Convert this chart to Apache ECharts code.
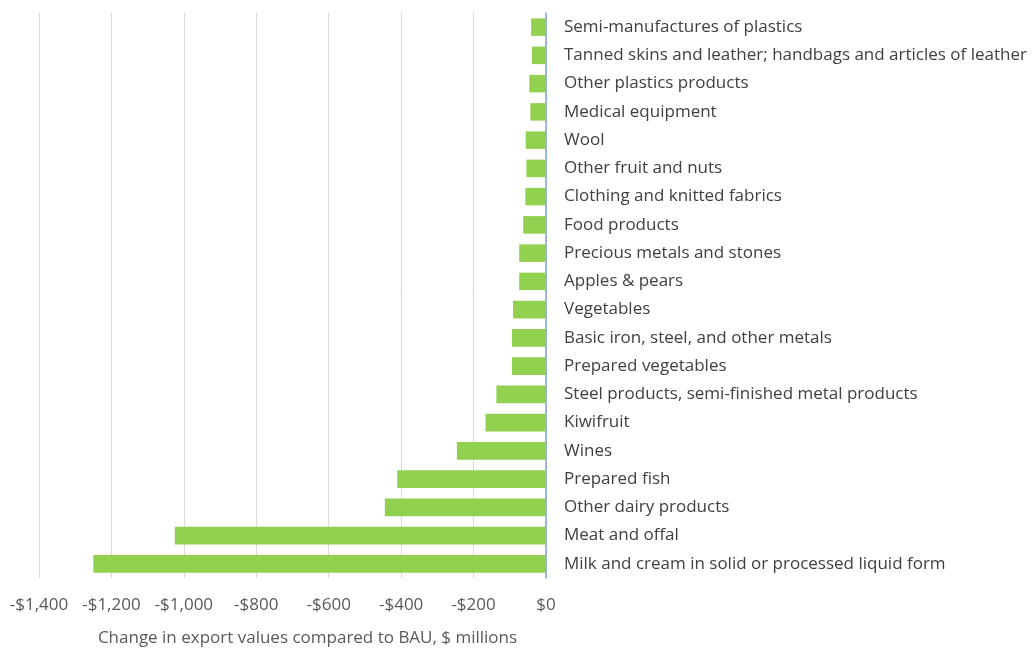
<!DOCTYPE html>
<html><head><meta charset="utf-8">
<script src="https://cdn.jsdelivr.net/npm/echarts@6/dist/echarts.min.js"></script>
<style>html,body{margin:0;padding:0;background:#fff}#c{width:1032px;height:648px}</style>
</head><body><div id="c"></div>
<script>
const categories = [
  "Semi-manufactures of plastics",
  "Tanned skins and leather; handbags and articles of leather",
  "Other plastics products",
  "Medical equipment",
  "Wool",
  "Other fruit and nuts",
  "Clothing and knitted fabrics",
  "Food products",
  "Precious metals and stones",
  "Apples & pears",
  "Vegetables",
  "Basic iron, steel, and other metals",
  "Prepared vegetables",
  "Steel products, semi-finished metal products",
  "Kiwifruit",
  "Wines",
  "Prepared fish",
  "Other dairy products",
  "Meat and offal",
  "Milk and cream in solid or processed liquid form"
];
const values = [-41, -39, -46, -43, -56, -54, -57, -63, -74, -74, -91, -94, -94, -137, -167, -246, -411, -445, -1025, -1250];
const xTicks = [-1400, -1200, -1000, -800, -600, -400, -200, 0];
const axisName = "Change in export values compared to BAU, $ millions";

const fontFamily = "'Open Sans', 'Noto Sans', sans-serif";
const fmt = v => (v < 0 ? '-$' : '$') + Math.abs(v).toLocaleString('en-US');
const chart = echarts.init(document.getElementById('c'), null, {renderer: 'canvas'});
chart.setOption({
  animation: false,
  grid: {left: 39, right: 486, top: 13, bottom: 70, containLabel: false, outerBoundsMode: 'none'},
  xAxis: {
    type: 'value', min: xTicks[0], max: xTicks[xTicks.length - 1], interval: 200,
    axisLine: {show: false}, axisTick: {show: false},
    splitLine: {lineStyle: {color: '#d9d9d9', width: 1}},
    axisLabel: {formatter: fmt, color: '#595959', fontSize: 17, fontFamily, margin: 19},
    name: axisName, nameLocation: 'middle', nameGap: 52,
    nameTextStyle: {color: '#595959', fontSize: 17, fontFamily, padding: [0, 0, 0, 30]}
  },
  yAxis: {
    type: 'category', data: categories, inverse: true, position: 'right',
    axisLine: {show: true, lineStyle: {color: '#7ea6d8', width: 1.5}},
    axisTick: {show: false},
    axisLabel: {color: '#404040', fontSize: 17, fontFamily, margin: 18, align: 'left'}
  },
  series: [{
    type: 'bar', data: values, barWidth: '62%',
    itemStyle: {color: '#92D050'}
  }]
});
</script></body></html>
